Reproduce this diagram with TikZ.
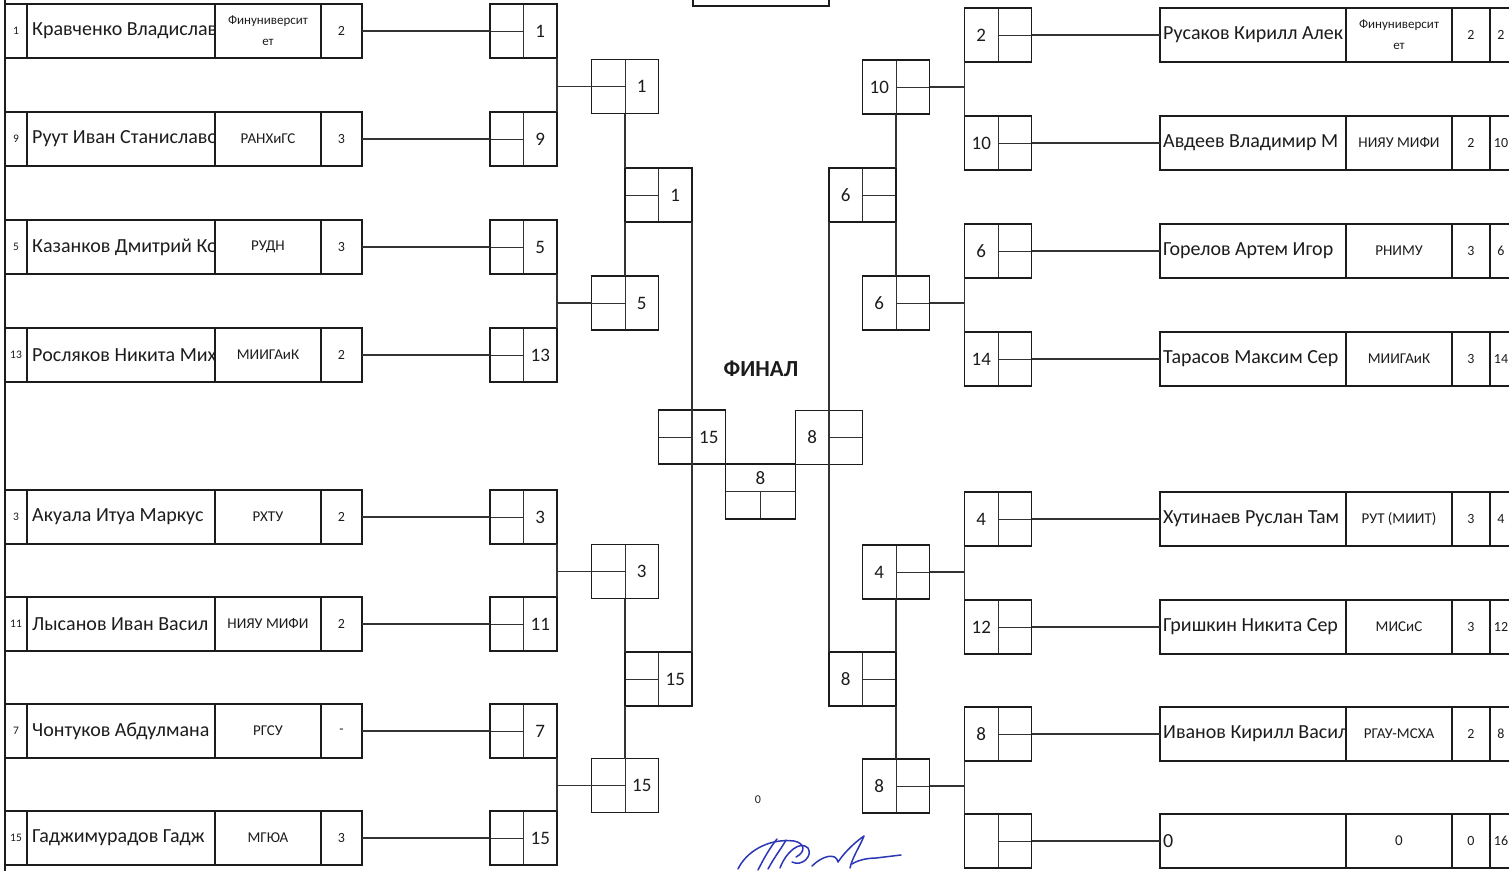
\documentclass[tikz,border=0pt]{standalone}
\usepackage{fontspec}
\setmainfont{Carlito}
\usetikzlibrary{positioning, calc}
\definecolor{colInk}  {HTML}{1C1C1C}
\definecolor{colRule} {HTML}{333333}
\definecolor{colSign} {HTML}{2B36B4}
\newcommand{\twoclub}[2]{\parbox{100pt}{\centering\fontsize{13}{21}\selectfont #1\\#2}}
\tikzset{
  cell/.style={
    draw=colInk, line width=1.5pt, inner sep=0pt, outer sep=0pt,
    minimum height=54pt, anchor=west, text=colInk
  },
  seedcell/.style={cell, minimum width=22pt, font=\fontsize{11.5}{13}\selectfont},
  namecell/.style={cell, minimum width=188pt},
  nametxt/.style={inner sep=0pt, text=colInk, font=\fontsize{20}{23}\selectfont},
  clubcell/.style={cell, minimum width=106pt, align=center,
    font=\fontsize{15}{17}\selectfont},
  ptscell/.style={cell, minimum width=41pt, font=\fontsize{14}{16}\selectfont},
  divline/.style={draw=colRule, line width=1pt},
  link/.style={draw=colRule, line width=1.2pt},
  numtxt/.style={inner sep=0pt, text=colInk, font=\fontsize{19}{22}\selectfont},
  pairbox/.style={draw=colInk, line width=1.5pt, inner sep=0pt, outer sep=0pt,
    minimum width=67pt, minimum height=54pt},
  % number on the right half, stub on the left half
  lbox/.style={pairbox, path picture={
      \draw[divline] (path picture bounding box.north) -- (path picture bounding box.south);
      \draw[divline] (path picture bounding box.west) -- (path picture bounding box.center);
      \node[numtxt] at ([xshift=16.75pt]path picture bounding box.center) {#1};}},
  % number on the left half, stub on the right half
  rbox/.style={pairbox, path picture={
      \draw[divline] (path picture bounding box.north) -- (path picture bounding box.south);
      \draw[divline] (path picture bounding box.center) -- (path picture bounding box.east);
      \node[numtxt] at ([xshift=-16.75pt]path picture bounding box.center) {#1};}},
  finbox/.style={pairbox, minimum width=70pt, minimum height=55pt, path picture={
      \draw[divline] (path picture bounding box.west) -- (path picture bounding box.east);
      \draw[divline] (path picture bounding box.center) -- (path picture bounding box.south);
      \node[numtxt] at ([yshift=13.75pt]path picture bounding box.center) {#1};}},
  sign/.style={draw=colSign, line width=1.5pt, line cap=round, line join=round}
}
\begin{document}
\begin{tikzpicture}[x=1pt, y=-1pt, node distance=0pt]
  \useasboundingbox (0,0) rectangle (1509,870);
  \clip (0,0) rectangle (1509,870);
  \draw[draw=colInk, line width=1.5pt] (5,-2) -- (5,872);
  \node[pairbox, minimum width=136pt, minimum height=30pt] (hdr) at (761,-9) {};

  % left half of the draw
  \foreach \id/\yy/\who/\club/\pts in {
      1/31/{Кравченко Владислав}/{\twoclub{Финуниверсит}{ет}}/2,
      9/139/{Руут Иван Станиславо}/{РАНХиГС}/3,
      5/247/{Казанков Дмитрий Ко}/{РУДН}/3,
      13/355/{Росляков Никита Мих}/{МИИГАиК}/2,
      3/517/{Акуала Итуа Маркус}/{РХТУ}/2,
      11/624/{Лысанов Иван Васил}/{НИЯУ МИФИ}/2,
      7/731/{Чонтуков Абдулмана}/{РГСУ}/-,
      15/838/{Гаджимурадов Гадж}/{МГЮА}/3}{
    \node[seedcell] (ls-\id) at (5,\yy) {\id};
    \node[namecell, right=of ls-\id] (ln-\id) {};
    \begin{scope}
      \clip (ln-\id.north west) rectangle (ln-\id.south east);
      \node[nametxt, right=5pt of ln-\id.west] (lt-\id) {\who};
    \end{scope}
    \node[clubcell, right=of ln-\id] (lu-\id) {\club};
    \node[ptscell, right=of lu-\id] (lp-\id) {\pts};
    \node[lbox=\id] (l1-\id) at (523.5,\yy) {};
    \draw[link] (lp-\id.east) -- (l1-\id.west);
  }

  % right half of the draw
  \foreach \id/\yy/\win/\who/\club/\pts in {
      2/35/2/{Русаков Кирилл Алек}/{\twoclub{Финуниверсит}{ет}}/2,
      10/143/10/{Авдеев Владимир М}/{НИЯУ МИФИ}/2,
      6/251/6/{Горелов Артем Игор}/{РНИМУ}/3,
      14/359/14/{Тарасов Максим Сер}/{МИИГАиК}/3,
      4/519/4/{Хутинаев Руслан Там}/{РУТ (МИИТ)}/3,
      12/627/12/{Гришкин Никита Сер}/{МИСиС}/3,
      8/734/8/{Иванов Кирилл Васил}/{РГАУ-МСХА}/2,
      16/841//{0}/{0}/0}{
    \node[namecell, minimum width=186pt] (rn-\id) at (1160,\yy) {};
    \begin{scope}
      \clip (rn-\id.north west) rectangle (rn-\id.south east);
      \node[nametxt, right=3pt of rn-\id.west] (rt-\id) {\who};
    \end{scope}
    \node[clubcell, right=of rn-\id] (ru-\id) {\club};
    \node[ptscell, minimum width=38pt, right=of ru-\id] (rp-\id) {\pts};
    \node[seedcell, right=of rp-\id, font=\fontsize{14}{16}\selectfont] (rs-\id) {\id};
    \node[rbox=\win] (r1-\id) at (998,\yy) {};
    \draw[link] (r1-\id.east) -- (rn-\id.west);
  }

  \node[lbox=1]  (l2-1)  at (625,86.5) {};
  \node[lbox=5]  (l2-5)  at (625,303) {};
  \node[lbox=3]  (l2-3)  at (625,571.5) {};
  \node[lbox=15] (l2-15) at (625,785.5) {};
  \node[lbox=1]  (l3-1)  at (658.5,195) {};
  \node[lbox=15] (l3-15) at (658.5,679) {};
  \node[lbox=15] (lf)    at (692,437) {};
  \node[finbox=8] (cf)   at (760.5,491.5) {};
  \node[rbox=8]  (rf)    at (829,437.5) {};
  \node[rbox=6]  (r3-6)  at (862.5,195) {};
  \node[rbox=8]  (r3-8)  at (862.5,679) {};
  \node[rbox=10] (r2-10) at (896,87) {};
  \node[rbox=6]  (r2-6)  at (896,303) {};
  \node[rbox=4]  (r2-4)  at (896,572) {};
  \node[rbox=8]  (r2-8)  at (896,786) {};

  \foreach \a/\b/\c in {1/9/1, 5/13/5, 3/11/3, 7/15/15}{
    \draw[link] (l1-\a.south east) -- (l1-\b.north east);
    \draw[link] (l1-\a.south east |- l2-\c.west) -- (l2-\c.west);
  }
  \foreach \a/\b/\c in {2/10/10, 6/14/6, 4/12/4, 8/16/8}{
    \draw[link] (r1-\a.south west) -- (r1-\b.north west);
    \draw[link] (r1-\a.south west |- r2-\c.east) -- (r2-\c.east);
  }
  \draw[link] (l2-1.south) -- (l3-1.north west);
  \draw[link] (l2-5.north) -- (l3-1.south west);
  \draw[link] (l2-3.south) -- (l3-15.north west);
  \draw[link] (l2-15.north) -- (l3-15.south west);
  \draw[link] (l3-1.south east) -- (l3-15.north east);
  \draw[link] (r2-10.south) -- (r3-6.north east);
  \draw[link] (r2-6.north) -- (r3-6.south east);
  \draw[link] (r2-4.south) -- (r3-8.north east);
  \draw[link] (r2-8.north) -- (r3-8.south east);
  \draw[link] (r3-6.south west) -- (r3-8.north west);

  \node[text=colInk, font=\bfseries\fontsize{23}{26}\selectfont] (final) at (761,369) {ФИНАЛ};
  \node[text=colInk, font=\fontsize{12}{14}\selectfont] (zero) at (758,800) {0};

  % signature
  \draw[sign] (738,869) .. controls (746,852) and (768,838) .. (794,841)
              .. controls (805,843) and (806,852) .. (796,857);
  \draw[sign] (758,870) .. controls (764,858) and (771,846) .. (777,839);
  \draw[sign] (768,869) .. controls (775,856) and (783,846) .. (786,840);
  \draw[sign] (780,868) .. controls (786,852) and (800,840) .. (808,848)
              .. controls (813,856) and (802,867) .. (792,862);
  \draw[sign] (812,866) .. controls (822,856) and (836,852) .. (838,862)
              .. controls (846,850) and (858,840) .. (864,836)
              .. controls (860,846) and (852,858) .. (850,868);
  \draw[sign] (852,864) .. controls (858,860) and (868,858) .. (876,858) -- (901,855);
\end{tikzpicture}
\end{document}
